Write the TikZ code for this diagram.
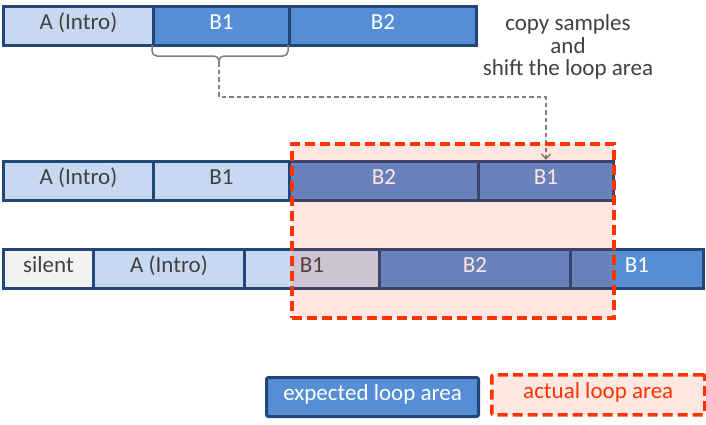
\documentclass[tikz,border=0pt]{standalone}
\usepackage{fontspec}
\setmainfont{Carlito}
\usetikzlibrary{arrows.meta}
\definecolor{dblue}{HTML}{234678}
\definecolor{lblue}{HTML}{C6D9F1}
\definecolor{mblue}{HTML}{558ED5}
\definecolor{sgray}{HTML}{F2F2F2}
\definecolor{tdark}{HTML}{404040}
\definecolor{lred}{HTML}{FF3300}
\definecolor{lpink}{HTML}{FFE7E2}
\definecolor{cgray}{HTML}{808080}
\begin{document}
\begin{tikzpicture}[x=1pt,y=-1pt,
  seg/.style={draw=dblue, line width=3pt, inner sep=0pt, minimum height=39pt,
    anchor=north west, font=\fontsize{23}{27}\selectfont, text height=0.72em, text depth=0pt},
  lseg/.style={seg, fill=lblue, text=tdark},
  mseg/.style={seg, fill=mblue, text=white},
  sseg/.style={seg, fill=sgray, text=tdark},
  loopbox/.style={draw=lred, line width=3.5pt, dash pattern=on 10pt off 5pt, inner sep=0pt, anchor=north west},
  brc/.style={draw=cgray, line width=1.5pt, rounded corners=5pt},
  conn/.style={draw=cgray, line width=1.5pt, dash pattern=on 4.5pt off 3pt, -{Straight Barb[length=5pt,width=9pt]}},
]
\useasboundingbox (0,0) rectangle (706,424);

% row 1
\node[lseg, minimum width=150pt] (r1a) at (2,5) {A (Intro)};
\node[mseg, minimum width=136pt] (r1b1) at (152,5) {B1};
\node[mseg, minimum width=187pt] (r1b2) at (288,5) {B2};

% row 2
\node[lseg, minimum width=150pt] (r2a) at (2,160) {A (Intro)};
\node[lseg, minimum width=136pt] (r2b1a) at (152,160) {B1};
\node[mseg, minimum width=189pt] (r2b2) at (288,160) {B2};
\node[mseg, minimum width=135pt] (r2b1) at (477,160) {B1};

% row 3
\node[sseg, minimum width=90pt] (r3s) at (2,248) {silent};
\node[lseg, minimum width=151pt] (r3a) at (92,248) {A (Intro)};
\node[lseg, minimum width=135pt] (r3b1) at (243,248) {B1};
\node[mseg, minimum width=191pt] (r3b2) at (378,248) {B2};
\node[mseg, minimum width=133pt] (r3b1b) at (569,248) {B1};

% brace and connector
\coordinate (cusp) at (219,62);
\draw[brc] (152,45) |- (219,56) -- (cusp);
\draw[brc] (288,45) |- (219,56) -- (cusp);
\draw[conn] (cusp) -- ++(0,35) -| (r2b1.north);

% caption
\node[anchor=north, align=center, text=tdark, font=\fontsize{23}{22.5}\selectfont, inner sep=0pt] (cap) at (568,14.5)
  {copy samples\\and\\shift the loop area};

% actual loop area overlay
\node[loopbox, fill=lred, fill opacity=0.12, minimum width=322pt, minimum height=174pt] (loop) at (290,142) {};

% legend
\node[seg, fill=mblue, text=white, rounded corners=2pt, minimum width=212pt] (lgexp) at (265,376) {expected loop area};
\node[loopbox, fill=lpink, text=lred, rounded corners=2pt, minimum width=213pt, minimum height=40pt,
  font=\fontsize{23}{27}\selectfont, text height=0.72em, text depth=0pt] (lgact) at (490,373) {actual loop area};
\end{tikzpicture}
\end{document}
